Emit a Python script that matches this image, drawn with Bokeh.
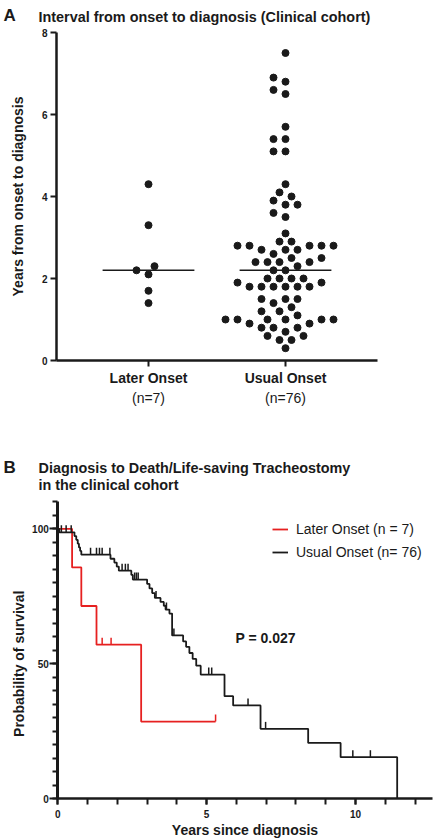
import numpy as np
from bokeh.plotting import figure
from bokeh.layouts import column
from bokeh.models import (Range1d, FixedTicker, SingleIntervalTicker, Label,
                          Legend, LegendItem)
from bokeh.embed import file_html
from bokeh.resources import INLINE

FONT = "Liberation Sans"
RED = "#e62020"
BLACK = "#1a1a1a"
W = 434

# ---------------- Panel A data ----------------
groups = ["Later Onset", "Usual Onset"]
group_n = ["(n=7)", "(n=76)"]
later_years = [4.3, 3.3, 2.3, 2.2, 2.1, 1.7, 1.4]
usual_years = [7.5, 6.9, 6.8, 6.6, 6.5, 5.7, 5.4, 5.4, 5.1, 5.1,
               4.3, 4.1, 4.0, 3.9, 3.8, 3.8, 3.6, 3.5, 3.1,
               2.9, 2.9, 2.8, 2.8, 2.8, 2.8, 2.8, 2.7, 2.7, 2.7, 2.6,
               2.5, 2.5, 2.4, 2.4, 2.4, 2.4, 2.3, 2.2, 2.2,
               2.0, 2.0, 2.0, 2.0, 1.9, 1.9, 1.8, 1.8, 1.8, 1.8, 1.8, 1.8,
               1.5, 1.5, 1.5, 1.4, 1.3, 1.2, 1.2, 1.1,
               1.0, 1.0, 1.0, 1.0, 1.0, 1.0, 0.9, 0.9, 0.8, 0.8, 0.8, 0.7,
               0.6, 0.6, 0.5, 0.5, 0.3]
a_yticks = [0, 2, 4, 6, 8]

# ---------------- Panel B data ----------------
later_event_times = [0.48, 0.79, 1.30, 2.80]
later_event_surv = [85.7, 71.4, 57.1, 28.6]
later_censor_times = [1.49, 1.79, 5.30]

usual_event_times = [0.05, 0.56, 0.62, 0.67, 0.71, 0.75, 0.79, 1.77, 1.90, 1.98,
                     2.05, 2.47, 2.52, 3.00, 3.08, 3.17, 3.26, 3.45, 3.56, 3.62,
                     3.75, 3.84, 4.21, 4.31, 4.42, 4.53, 4.65, 4.80, 5.60, 5.89,
                     6.81, 8.41, 9.50, 11.40]
usual_event_surv = [98.7, 97.3, 95.9, 94.5, 93.1, 91.8, 90.4, 88.9, 87.5, 86.0,
                    84.5, 82.9, 81.2, 79.6, 77.9, 76.2, 74.4, 72.9, 71.5, 70.1,
                    68.6, 60.5, 58.3, 56.3, 54.0, 51.8, 49.3, 46.0, 38.0, 34.6,
                    25.9, 20.7, 15.4, 0.0]
usual_censor_times = [0.12, 0.28, 0.45, 1.10, 1.30, 1.40, 1.49, 1.75, 2.16, 2.27,
                      2.36, 2.58, 2.64, 2.70, 3.30, 3.65, 3.90, 5.07, 5.17, 6.39,
                      6.98, 9.91, 10.50]
p_text = "P = 0.027"


def swarm_offsets(vals, px_per_y, px_per_x, step=6.0, dmin=10.0):
    vals = np.asarray(vals, dtype=float)
    order = np.argsort(vals, kind="stable")
    cands = [0.0]
    for k in range(1, 40):
        cands += [-k * step, k * step]
    placed = []
    offs = np.zeros(len(vals))
    for i in order:
        y = vals[i] * px_per_y
        for c in cands:
            if all((c - px) ** 2 + (y - py) ** 2 >= dmin ** 2 for px, py in placed):
                offs[i] = c
                placed.append((c, y))
                break
    return offs / px_per_x


def style_axis(ax, label_size="10px"):
    ax.axis_line_width = 2.5
    ax.axis_line_color = BLACK
    ax.major_tick_line_width = 2
    ax.minor_tick_line_width = 2
    ax.major_tick_line_color = BLACK
    ax.minor_tick_line_color = BLACK
    ax.major_tick_in = 0
    ax.minor_tick_in = 0
    ax.major_label_text_font = FONT
    ax.major_label_text_font_style = "bold"
    ax.major_label_text_font_size = label_size
    ax.major_label_text_color = BLACK
    ax.axis_label_text_font = FONT
    ax.axis_label_text_font_style = "bold"
    ax.axis_label_text_font_size = "14px"
    ax.axis_label_text_color = BLACK


def bare_fig(height, xr, yr):
    f = figure(width=W, height=height, x_range=Range1d(*xr), y_range=Range1d(*yr),
               output_backend="svg", toolbar_location=None,
               min_border_left=0, min_border_right=0, min_border_top=0,
               min_border_bottom=0)
    f.outline_line_color = None
    f.grid.visible = False
    return f


def text_label(fig, x, y, text, size="14px", bold=True, **kw):
    fig.add_layout(Label(x=x, y=y, text=text, text_font=FONT,
                         text_font_style="bold" if bold else "normal",
                         text_font_size=size, text_color=BLACK, **kw))


# ================= Panel A =================
HA = 420
A_PXY = 41.0          # px per year
A_PXX = 137.0         # px per category step
A_Y0 = 360.0          # screen row of y = 0
A_X1 = 148.0          # screen column of first category
ax_start = 1 - A_X1 / A_PXX
pa = bare_fig(HA, (ax_start, ax_start + W / A_PXX),
              (-(HA - A_Y0) / A_PXY, A_Y0 / A_PXY))

for gi, vals in enumerate([later_years, usual_years]):
    pos = gi + 1
    offs = swarm_offsets(vals, A_PXY, A_PXX)
    pa.scatter(x=pos + offs, y=vals, size=7, color=BLACK, line_color=BLACK)
    med = float(np.median(vals))
    half = 0.335
    pa.segment(x0=[pos - half], y0=[med], x1=[pos + half], y1=[med],
               line_color=BLACK, line_width=1.5)

a_left = 1 - 92 / A_PXX
a_right = 2 + 92 / A_PXX
xa = pa.xaxis[0]
ya = pa.yaxis[0]
style_axis(xa, "14px")
style_axis(ya, "10px")
xa.fixed_location = 0
xa.bounds = (a_left, a_right)
xa.ticker = FixedTicker(ticks=[1, 2])
xa.major_label_overrides = {1: groups[0], 2: groups[1]}
xa.major_tick_out = 6
xa.minor_tick_out = 0
xa.major_label_standoff = 3
ya.fixed_location = a_left
ya.bounds = (0, 8)
ya.ticker = FixedTicker(ticks=a_yticks)
ya.major_tick_out = 6
ya.minor_tick_out = 0
ya.major_label_standoff = 3
ya.axis_label = "Years from onset to diagnosis"
ya.axis_label_standoff = 13

for gi, txt in enumerate(group_n):
    text_label(pa, gi + 1, HA - 397, txt, bold=False, x_units="data",
               y_units="screen", text_align="center", text_baseline="middle")

text_label(pa, 3, HA - 15, "A", size="17px", x_units="screen", y_units="screen",
           text_baseline="alphabetic")
text_label(pa, 38, HA - 16, "Interval from onset to diagnosis (Clinical cohort)",
           size="14.4px", x_units="screen", y_units="screen",
           text_baseline="alphabetic")

# ================= Panel B =================
HB = 420
TOPB = 420.0
B_PXY = 2.7           # px per % survival
B_PXX = 29.77         # px per year
B_Y0 = 798.3 - TOPB   # screen row of survival 0
B_X0 = 57.3           # screen column of time 0
bx_start = -B_X0 / B_PXX
pb = bare_fig(HB, (bx_start, bx_start + W / B_PXX),
              (-(HB - B_Y0) / B_PXY, B_Y0 / B_PXY))

TICK_LEN = 7.0 / B_PXY  # censor tick height in data units


def km_curve(ev_t, ev_s, cen_t, color):
    ev_t = list(ev_t)
    ev_s = list(ev_s)
    end = max(ev_t[-1], max(cen_t))
    xs = [0.0] + ev_t
    ys = [100.0] + ev_s
    if end > ev_t[-1]:
        xs.append(end)
        ys.append(ev_s[-1])
    r = pb.step(x=xs, y=ys, mode="after", line_color=color, line_width=1.8)
    et = np.array(ev_t)
    es = np.array(ev_s)
    s_at = []
    for c in cen_t:
        k = np.searchsorted(et, c, side="right")
        s_at.append(100.0 if k == 0 else es[k - 1])
    s_at = np.array(s_at)
    pb.segment(x0=cen_t, y0=s_at, x1=cen_t, y1=s_at + TICK_LEN,
               line_color=color, line_width=1.5)
    dummy = pb.scatter(x=[], y=[], marker="dash", angle=np.pi / 2, size=9,
                       line_color=color, line_width=1.5)
    return r, dummy


r_late, d_late = km_curve(later_event_times, later_event_surv, later_censor_times, RED)
r_usual, d_usual = km_curve(usual_event_times, usual_event_surv, usual_censor_times, BLACK)

xb = pb.xaxis[0]
yb = pb.yaxis[0]
style_axis(xb, "10px")
style_axis(yb, "10px")
xb.fixed_location = 0
xb.bounds = (0, (432 - B_X0) / B_PXX)
xb.ticker = SingleIntervalTicker(interval=5, num_minor_ticks=5)
xb.major_tick_out = 6
xb.minor_tick_out = 6
xb.major_label_standoff = 5
xb.axis_label = "Years since diagnosis"
xb.axis_label_standoff = 1
yb.fixed_location = 0
yb.bounds = (0, 110)
yb.ticker = SingleIntervalTicker(interval=50, num_minor_ticks=10)
yb.major_tick_out = 8
yb.minor_tick_out = 5
yb.major_label_standoff = 1
yb.axis_line_width = 3

legend = Legend(items=[LegendItem(label="Later Onset (n = 7)", renderers=[r_late, d_late]),
                       LegendItem(label="Usual Onset (n= 76)", renderers=[r_usual, d_usual])],
                location=(272, HB - 141), padding=0, margin=0, spacing=5,
                glyph_width=16, glyph_height=18, label_height=18, label_standoff=8,
                label_text_font=FONT, label_text_font_size="14px",
                label_text_color=BLACK, border_line_alpha=0,
                background_fill_alpha=0)
pb.add_layout(legend)

text_label(pb, 18, 50, "Probability of survival", x_units="screen", y_units="data",
           angle=np.pi / 2, text_align="center", text_baseline="middle")
text_label(pb, 235, HB - (637 - TOPB), p_text, x_units="screen", y_units="screen",
           text_baseline="middle")
text_label(pb, 3, HB - (467.3 - TOPB), "B", size="17px", x_units="screen",
           y_units="screen", text_baseline="alphabetic")
text_label(pb, 38, HB - (467.3 - TOPB), "Diagnosis to Death/Life-saving Tracheostomy",
           size="14.4px", x_units="screen", y_units="screen",
           text_baseline="alphabetic")
text_label(pb, 38, HB - (484 - TOPB), "in the clinical cohort", size="14.4px",
           x_units="screen", y_units="screen", text_baseline="alphabetic")

layout = column(pa, pb, spacing=0)
open("out.html", "w").write(file_html(layout, INLINE))
